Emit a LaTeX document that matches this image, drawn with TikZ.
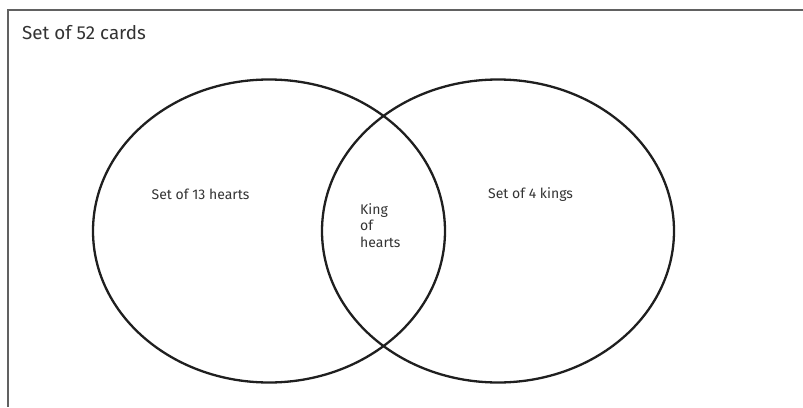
\documentclass[tikz,border=0pt]{standalone}
\usetikzlibrary{shapes.geometric}
\usepackage{fontspec}
\setmainfont{Fira Sans}
\begin{document}
\begin{tikzpicture}[x=1pt,y=-1pt,
  setline/.style={ellipse,draw,line width=2.3pt,draw=black!88,minimum width=352pt,minimum height=303pt,inner sep=0pt},
  frameline/.style={line width=2pt,draw=black!62},
  biglabel/.style={anchor=base west,inner sep=0pt,text=black!80,font=\fontsize{18.8}{22}\selectfont},
  smalllabel/.style={anchor=base west,inner sep=0pt,text=black!80,font=\fontsize{14}{16.5}\selectfont,align=left}]
\useasboundingbox (0,0) rectangle (803,407);
\coordinate (tl) at (7.5,9.5);
\coordinate (tr) at (803,9.5);
\coordinate (bl) at (7.5,407);
\draw[frameline] (tr) -- (tl) -- (bl);
\node[setline] (hearts) at (269,231) {};
\node[setline] (kings) at (498,231) {};
\node[biglabel] (t52) at (22,39.5) {Set of 52 cards};
\node[smalllabel] (h13) at (151.5,199) {Set of 13 hearts};
\node[smalllabel] (k4) at (488,198) {Set of 4 kings};
\node[smalllabel] (kh) at (360,247) {King\\of\\hearts};
\end{tikzpicture}
\end{document}
